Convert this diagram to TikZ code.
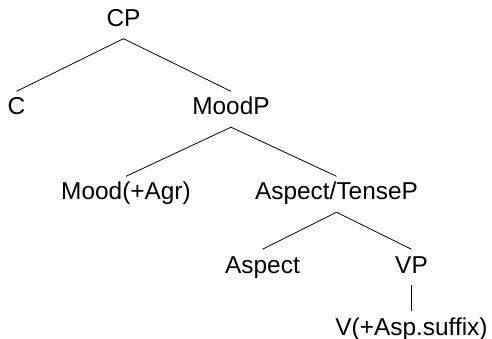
\documentclass[tikz,border=0pt]{standalone}
\usepackage{fontspec}
\setmainfont{Liberation Sans}
\begin{document}
\begin{tikzpicture}[x=1pt,y=1pt,
  lab/.style={anchor=base,inner sep=0pt,text height=23.5pt,text depth=12pt,
    font=\fontsize{24.4}{29}\selectfont},
  edge/.style={draw=black,line width=0.8pt}]
\useasboundingbox (0,0) rectangle (492,-339);
\node[lab] (cp) at (123.5,-26.5) {CP};
\node[lab] (c) at (16.5,-115) {C};
\node[lab] (moodp) at (231,-115) {MoodP};
\node[lab] (mood) at (126,-200) {Mood(+Agr)};
\node[lab] (at) at (336.5,-200) {Aspect/TenseP};
\node[lab] (aspect) at (262.5,-273) {Aspect};
\node[lab] (vp) at (411.5,-273) {VP};
\node[lab] (v) at (411.5,-335) {V(+Asp.suffix)};
\draw[edge] (cp.south) -- (c.north);
\draw[edge] (cp.south) -- (moodp.north);
\draw[edge] (moodp.south) -- (mood.north);
\draw[edge] (moodp.south) -- (at.north);
\draw[edge] (at.south) -- (aspect.north);
\draw[edge] (at.south) -- (vp.north);
\draw[edge] (vp.south) -- (v.north);
\end{tikzpicture}
\end{document}
